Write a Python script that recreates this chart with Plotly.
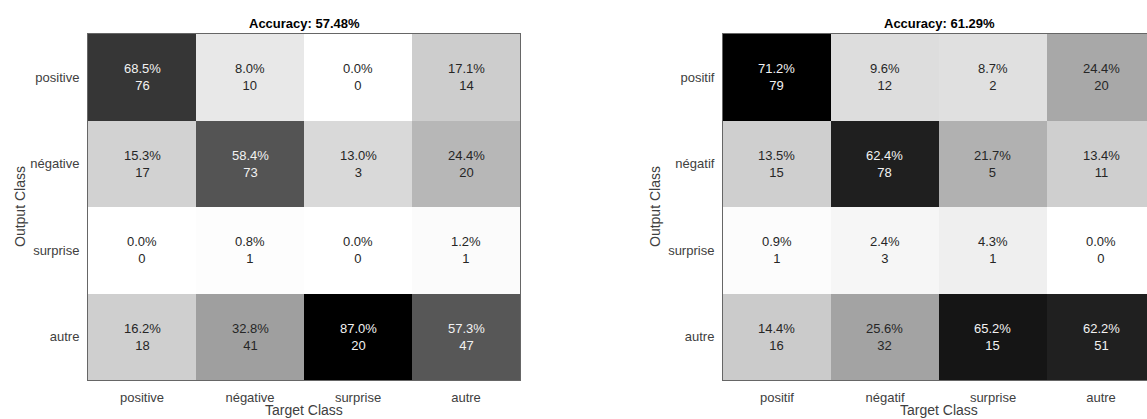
import plotly.graph_objects as go
import numpy as np

# confusion matrices: rows = output class, cols = target class
labels_left = ["positive", "négative", "surprise", "autre"]
counts_left = [
    [76, 10, 0, 14],
    [17, 73, 3, 20],
    [0, 1, 0, 1],
    [18, 41, 20, 47],
]

labels_right = ["positif", "négatif", "surprise", "autre"]
counts_right = [
    [79, 12, 2, 20],
    [15, 78, 5, 11],
    [1, 3, 1, 0],
    [16, 32, 15, 51],
]

W, H = 1147, 419
FONT = "Liberation Sans, Arial, sans-serif"
TXT = "#404040"


def px_x(p):
    return p / W


def px_y(p):
    return 1 - p / H


fig = go.Figure()
annotations = []

panels = [
    (labels_left, counts_left, "", (88, 520), 3.5),
    (labels_right, counts_right, "2", (723, W), -0.5 + (W - 723) / 108.0),
]

for labels, counts, sfx, (xl, xr), xmax in panels:
    c = np.array(counts, dtype=float)
    pct = 100 * c / c.sum(axis=0)
    acc = 100 * np.trace(c) / c.sum()
    zmax = pct.max()

    xa = "x" + sfx
    ya = "y" + sfx
    fig.add_trace(go.Heatmap(
        z=pct, x=list(range(4)), y=list(range(4)),
        xaxis=xa, yaxis=ya,
        colorscale=[[0, "#ffffff"], [1, "#000000"]],
        zmin=0, zmax=zmax, showscale=False, hoverinfo="skip",
    ))

    for i in range(4):
        for j in range(4):
            col = "#f2f2f2" if pct[i, j] / zmax > 0.5 else "#262626"
            annotations.append(dict(
                x=j, y=i, xref=xa, yref=ya,
                text=f"{pct[i, j]:.1f}%<br>{int(c[i, j])}",
                showarrow=False, font=dict(family=FONT, size=13, color=col),
            ))

    dom = [px_x(xl), min(px_x(xr), 1.0)]
    fig.layout["xaxis" + sfx] = dict(
        domain=dom, range=[-0.5, xmax], anchor=ya,
        tickmode="array", tickvals=list(range(4)), ticktext=labels,
        showgrid=False, zeroline=False, fixedrange=True,
        showline=True, linecolor="#666666", linewidth=1, mirror=True,
        ticks="", ticklabelstandoff=5,
        tickfont=dict(family=FONT, size=13, color=TXT),
    )
    fig.layout["yaxis" + sfx] = dict(
        domain=[px_y(380), px_y(34)], range=[3.5, -0.5], anchor=xa,
        tickmode="array", tickvals=list(range(4)), ticktext=labels,
        showgrid=False, zeroline=False, fixedrange=True,
        showline=True, linecolor="#666666", linewidth=1,
        mirror=(sfx == ""), ticks="", ticklabelstandoff=5,
        tickfont=dict(family=FONT, size=13, color=TXT),
    )

    cx = xl + 216
    annotations.append(dict(
        x=px_x(cx), y=px_y(24), xref="paper", yref="paper",
        text=f"<b>Accuracy: {acc:.2f}%</b>", showarrow=False,
        xanchor="center", yanchor="middle",
        font=dict(family=FONT, size=13, color="#000000"),
    ))
    annotations.append(dict(
        x=px_x(cx), y=px_y(410), xref="paper", yref="paper",
        text="Target Class", showarrow=False,
        xanchor="center", yanchor="middle",
        font=dict(family=FONT, size=14, color=TXT),
    ))
    annotations.append(dict(
        x=px_x(xl - 68), y=px_y(207), xref="paper", yref="paper",
        text="Output Class", showarrow=False, textangle=-90,
        xanchor="center", yanchor="middle",
        font=dict(family=FONT, size=14, color=TXT),
    ))

fig.update_layout(
    width=W, height=H,
    margin=dict(l=0, r=0, t=0, b=0),
    paper_bgcolor="white", plot_bgcolor="white",
    annotations=annotations,
    showlegend=False,
)

# drop the page's default 8px body margin so the figure sits at the corner
fig.write_html("out.html", config={"displayModeBar": False},
               post_script="document.body.style.margin='0';")
